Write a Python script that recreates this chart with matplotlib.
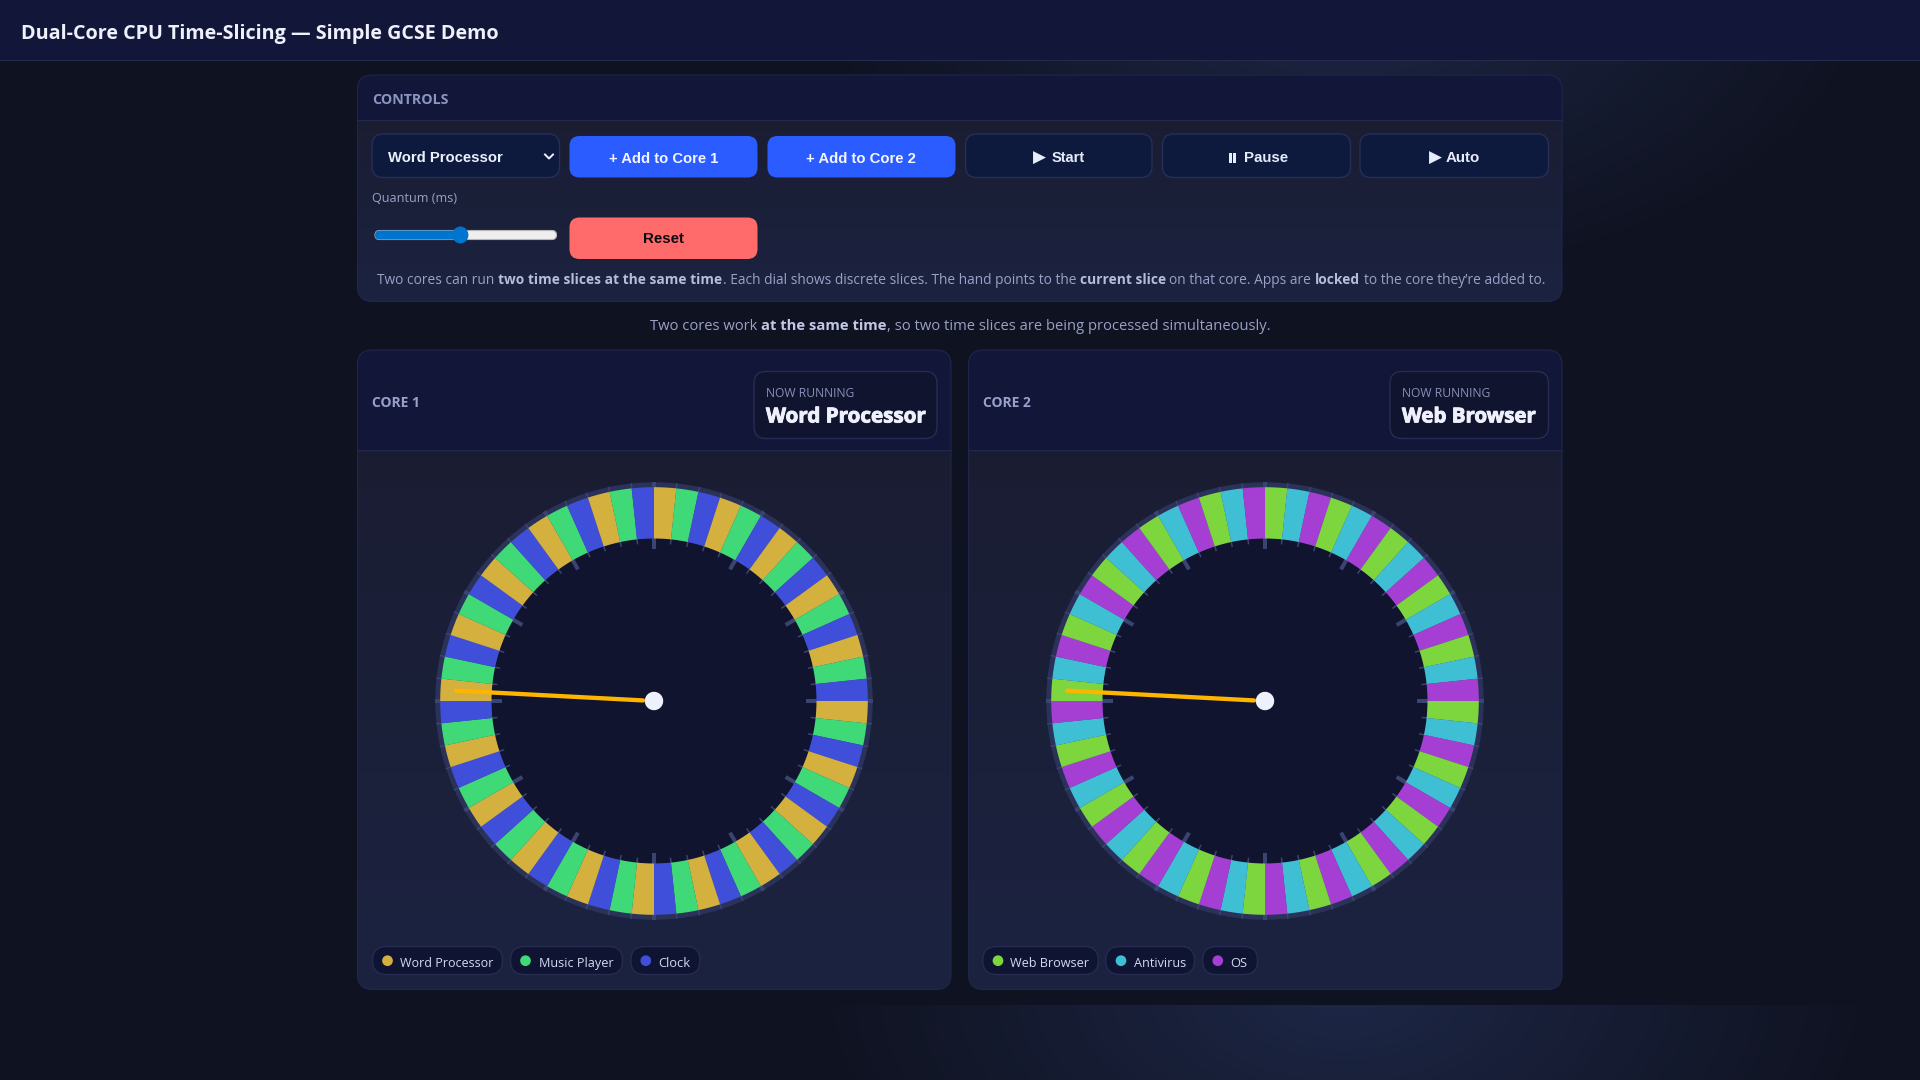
import numpy as np
import matplotlib
matplotlib.use("Agg")
import matplotlib.pyplot as plt
import matplotlib.patheffects as pe
from matplotlib.patches import FancyBboxPatch, Ellipse, Rectangle
from matplotlib.colors import to_rgb

# ---------- data ----------
core_names = ["CORE 1", "CORE 2"]
running = ["Word Processor", "Web Browser"]
core1_apps = ["Word Processor", "Music Player", "Clock"]
core2_apps = ["Web Browser", "Antivirus", "OS"]
core1_colors = ["#d4b13f", "#3fd977", "#3f4fd9"]
core2_colors = ["#7ed63f", "#3fbfd4", "#a53fd4"]
slice_count = 60
major_every = 5
hand_angle_deg = [273.0, 273.0]
button_labels = ["+ Add to Core 1", "+ Add to Core 2", "Start", "Pause", "Auto"]
play_icon = "▶"

W, H = 1920, 1080
SANS = ["Open Sans", "DejaVu Sans"]
ARIAL = ["Liberation Sans", "DejaVu Sans"]

fig = plt.figure(figsize=(19.2, 10.8), dpi=100)
ax = fig.add_axes([0, 0, 1, 1])
ax.set_axis_off()
renderer = fig.canvas.get_renderer()


def _w(s, size, family, weight):
    t = ax.text(0, 0, s, fontsize=size, family=family, fontweight=weight)
    w = t.get_window_extent(renderer).width
    t.remove()
    return w


def width(s, size, family, weight):
    return _w("|" + s + "|", size, family, weight) - _w("||", size, family, weight)


def fit(x0, x1, yc, s, color, family=SANS, weight="normal", stroke=0, z=10):
    base = 20
    size = base * (x1 - x0) / width(s, base, family, weight)
    size = size * (x1 - x0) / width(s, size, family, weight)
    px = size * 100 / 72
    t = ax.text(x0, yc + 0.36 * px, s, fontsize=size, family=family, fontweight=weight,
                color=color, ha="left", va="baseline", zorder=z)
    if stroke:
        t.set_path_effects([pe.withStroke(linewidth=stroke, foreground=color)])
    return t


def runs(x0, size, yc, parts, c_norm, c_bold):
    wt = lambda b: "bold" if b else "normal"
    space = _w("a a", size, SANS, "normal") - _w("aa", size, SANS, "normal")
    x = x0
    px = size * 100 / 72
    for i, (p, b) in enumerate(parts):
        if i:
            spaced = p.startswith(" ") or parts[i - 1][0].endswith(" ")
            x += space if spaced else 0.6
        ax.text(x, yc + 0.36 * px, p.strip(" "), fontsize=size, family=SANS, fontweight=wt(b),
                color=c_bold if b else c_norm, ha="left", va="baseline", zorder=10)
        x += _w(p.strip(" "), size, SANS, wt(b))


def rbox(x0, y0, x1, y1, r, fc, ec="none", lw=1.0, z=3):
    p = FancyBboxPatch((x0, y0), x1 - x0, y1 - y0, boxstyle=f"round,pad=0,rounding_size={r}",
                       fc=fc, ec=ec, lw=lw, zorder=z)
    ax.add_patch(p)
    return p


def vgrad(x0, y0, x1, y1, c0, c1, clip, z):
    c0, c1 = np.array(to_rgb(c0)), np.array(to_rgb(c1))
    t = np.linspace(0, 1, 256)[:, None, None]
    arr = c0[None, None, :] * (1 - t) + c1[None, None, :] * t
    im = ax.imshow(arr, extent=(x0, x1, y1, y0), aspect="auto", zorder=z, interpolation="bilinear")
    im.set_clip_path(clip)
    return im


# ---------- page background ----------
yy, xx = np.mgrid[0:H, 0:W]
tile_y = np.where(yy >= 1005, yy - 1005, yy)
dist = np.sqrt(((xx - 1344) / 540.0) ** 2 + ((tile_y + 10) / 300.0) ** 2)
g = np.clip(1 - dist, 0, 1)[..., None]
bg = np.array(to_rgb("#0f1220"))[None, None, :] * (1 - g) + np.array(to_rgb("#1d2746"))[None, None, :] * g
ax.imshow(bg, extent=(0, W, H, 0), aspect="auto", zorder=0, interpolation="nearest")

# top bar
ax.add_patch(Rectangle((0, 0), W, 59.5, fc="#12173a", ec="none", zorder=1))
ax.plot([0, W], [59.5, 59.5], color="#252a4c", lw=0.8, zorder=2)
fit(21, 499, 31.5, "Dual-Core CPU Time-Slicing — Simple GCSE Demo", "#eef0fb", weight="bold")


def panel(x0, y0, x1, y1, head_y):
    rbox(x0, y0, x1, y1, 15, "#1a1d33", z=2)
    clip = rbox(x0, y0, x1, y1, 15, "none", z=2)
    vgrad(x0, head_y, x1, y1, "#1a1d32", "#1c2341", clip, 2.1)
    r = Rectangle((x0, y0), x1 - x0, head_y - y0, fc="#12173a", ec="none", zorder=2.2)
    ax.add_patch(r)
    r.set_clip_path(clip)
    ax.plot([x0, x1], [head_y, head_y], color="#232949", lw=0.8, zorder=2.3)
    rbox(x0, y0, x1, y1, 15, "none", ec="#20264a", lw=0.8, z=2.4)


# ---------- controls ----------
panel(357.5, 75, 1562, 301.5, 119.5)
fit(372, 448, 98.7, "CONTROLS", "#8c95c2", weight="bold")

rbox(372, 134, 559.5, 177.5, 11, "#0d1a3e", ec="#262f55")
fit(388, 503.5, 156.7, running[0], "#eef0fb", family=ARIAL, weight="bold")
ax.plot([545, 549, 553], [154.5, 158.5, 154.5], color="#eef0fb", lw=1.4, zorder=10)

rbox(569.5, 136, 757.5, 177.5, 10, "#2b5cff")
fit(609, 718, 157.7, button_labels[0], "#f2f5ff", family=ARIAL, weight="bold")
rbox(767.5, 136, 955.5, 177.5, 10, "#2b5cff")
fit(806, 916, 157.7, button_labels[1], "#f2f5ff", family=ARIAL, weight="bold")

rbox(965.5, 134, 1152, 177.5, 11, "#0d1a3e", ec="#262f55")
fit(1033, 1046, 156.7, play_icon, "#e8ebfb", family=["DejaVu Sans"])
fit(1051.4, 1084.5, 156.7, button_labels[2], "#e8ebfb", family=ARIAL, weight="bold")
rbox(1162.5, 134, 1350.5, 177.5, 11, "#0d1a3e", ec="#262f55")
ax.add_patch(Rectangle((1228.5, 153), 3, 9.5, fc="#e8ebfb", zorder=10))
ax.add_patch(Rectangle((1232.8, 153), 3, 9.5, fc="#e8ebfb", zorder=10))
fit(1244, 1288, 156.7, button_labels[3], "#e8ebfb", family=ARIAL, weight="bold")
rbox(1360, 134, 1548.5, 177.5, 11, "#0d1a3e", ec="#262f55")
fit(1429, 1442, 156.7, play_icon, "#e8ebfb", family=["DejaVu Sans"])
fit(1445.3, 1479.5, 156.7, button_labels[4], "#e8ebfb", family=ARIAL, weight="bold")

fit(372, 457, 197.3, "Quantum (ms)", "#9aa0c6")

# slider
rbox(375, 230.5, 556.5, 239.5, 4.5, "#efefef", ec="#b5b5b5", lw=0.8)
rbox(375, 230.5, 460, 239.5, 4.5, "#0075cf")
ax.add_patch(Ellipse((460.4, 235), 16, 17, fc="#0075cf", ec="none", zorder=5))

rbox(569.5, 217.5, 757.5, 259, 10, "#ff6b6b")
fit(643.5, 684.5, 237.7, "Reset", "#0b0b10", family=ARIAL, weight="bold")

runs(377.0, 9.95, 279, [
    ("Two cores can run ", False), ("two time slices at the same time", True),
    (". Each dial shows discrete slices. The hand points to the ", False), ("current slice", True),
    (" on that core. Apps are ", False), ("locked", True), (" to the core they’re added to.", False),
], "#9ba1c6", "#b6bcdb")

runs(649.5, 10.65, 325, [
    ("Two cores work ", False), ("at the same time", True),
    (", so two time slices are being processed simultaneously.", False),
], "#9ba1c6", "#c2c7e4")


# ---------- dials ----------
def dial(cx, cy, colors, angle):
    R = 225.0
    pa = fig.add_axes([(cx - R) / W, 1 - (cy + R) / H, 2 * R / W, 2 * R / H], projection="polar")
    pa.set_theta_zero_location("N")
    pa.set_theta_direction(-1)
    pa.set_rlim(0, R)
    pa.set_axis_off()
    pa.patch.set_visible(False)
    full = 2 * np.pi
    pa.bar(full / 2, 218.7, width=full, bottom=0, color="#2b3259", lw=0, zorder=1)
    pa.bar(full / 2, 162.8, width=full, bottom=0, color="#10142e", lw=0, zorder=1.1)
    step = full / slice_count
    for i in range(slice_count):
        th = i * step
        major = i % major_every == 0
        pa.plot([th, th], [152 if major else 157.5, 219], color="#3a4470",
                lw=2.9 if major else 1.1, solid_capstyle="butt", zorder=2)
    for i in range(slice_count):
        pa.bar((i + 0.5) * step, 51.3, width=step * 1.002, bottom=162.5,
               color=colors[i % len(colors)], lw=0, zorder=3)
    th = np.deg2rad(angle)
    pa.plot([th, th], [11, 198], color="#ffb500", lw=3.1, solid_capstyle="round", zorder=4)
    pa.bar(full / 2, 9.2, width=full, bottom=0, color="#eef0fb", lw=0, zorder=5)
    pa.set_rlim(0, R)


def core(x0, x1, idx, apps, colors, cx, box, tx, pills, dots, labels):
    panel(x0, 350, x1, 989.5, 450)
    fit(x0 + 14.5, x0 + 14.5 + 48.5, 401.7, core_names[idx], "#98a0cb", weight="bold")
    rbox(box[0], 371.5, box[1], 438.5, 12, "#10142f", ec="#272d50")
    fit(box[0] + 12, box[0] + 100.5, 392.7, "NOW RUNNING", "#8990b8")
    fit(box[0] + 12, tx, 415, running[idx], "#eef0fb", weight="bold", stroke=0.7)
    dial(cx, 701, colors, hand_angle_deg[idx])
    for (a, b), d, (l0, l1), name, c in zip(pills, dots, labels, apps, colors):
        rbox(a, 946.5, b, 974.5, 14, "#0f1433", ec="#252c50")
        ax.add_patch(Ellipse((d, 960.7), 10.7, 10.7, fc=c, ec="none", zorder=6))
        fit(l0, l1, 962.3, name, "#d5d9f2")


core(357.5, 951, 0, core1_apps, core1_colors, 654,
     (754, 937), 925.7,
     [(372.5, 502.5), (510.5, 622.5), (630.8, 700)],
     [387.5, 525.5, 645.8],
     [(399.8, 493.7), (538.9, 613.2), (658.4, 690.6)])
core(968.5, 1562, 1, core2_apps, core2_colors, 1265,
     (1390, 1548.5), 1536,
     [(982.7, 1098.4), (1105.7, 1194.5), (1202.5, 1257.6)],
     [998, 1121, 1217.8],
     [(1010.2, 1089.2), (1133.9, 1186), (1230.7, 1247.8)])

ax.set_xlim(0, W)
ax.set_ylim(H, 0)
fig.savefig("out.png", dpi=100, facecolor="#0f1220")
